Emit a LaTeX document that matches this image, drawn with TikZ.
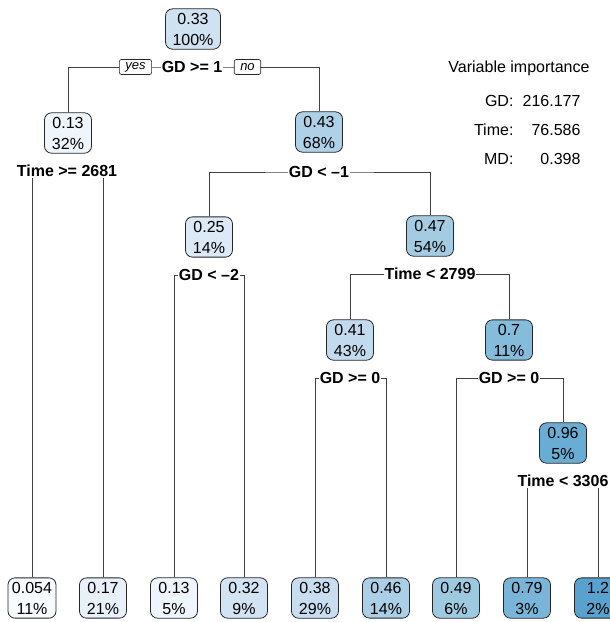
\documentclass[tikz,border=0pt]{standalone}
\usepackage{fontspec}
\setmainfont{Liberation Sans}
\usetikzlibrary{backgrounds}
\definecolor{c054}{HTML}{F7FBFF}
\definecolor{c13}{HTML}{EEF5FC}
\definecolor{c17}{HTML}{E8F1FA}
\definecolor{c25}{HTML}{DCE9F6}
\definecolor{c32}{HTML}{D2E3F3}
\definecolor{c33}{HTML}{D0E2F2}
\definecolor{c38}{HTML}{C9DDF0}
\definecolor{c41}{HTML}{C3DAEE}
\definecolor{c43}{HTML}{AFD1E7}
\definecolor{c46}{HTML}{ABCFE6}
\definecolor{c47}{HTML}{A3CCE3}
\definecolor{c49}{HTML}{9ECAE1}
\definecolor{c70}{HTML}{85BCDC}
\definecolor{c79}{HTML}{79B5D9}
\definecolor{c96}{HTML}{69ADD5}
\definecolor{c120}{HTML}{59A2CF}
\begin{document}
\begin{tikzpicture}[x=1pt, y=-1pt,
		box/.style={draw=black!85, line width=0.8pt, rounded corners=7pt, align=center, minimum width=47pt, inner xsep=4pt, inner ysep=4pt, font=\fontsize{16}{21}\selectfont},
		cond/.style={fill=white, inner sep=1pt, font=\fontsize{16}{21}\selectfont\bfseries},
		tag/.style={draw=black!85, fill=white, line width=0.6pt, rounded corners=2pt, inner xsep=6pt, inner ysep=0pt, minimum height=15pt, font=\fontsize{13}{15}\selectfont\itshape},
		vimp/.style={font=\fontsize{16}{21}\selectfont},
		branch/.style={draw=black!75, line width=0.7pt}]
				\useasboundingbox (0,0) rectangle (610,622);
				
				\node[box, fill=c33, inner xsep=7pt] (n1) at (193, 29) {0.33\\100\%};
				\node[box, fill=c13] (n2) at (68, 133) {0.13\\32\%};
				\node[box, fill=c43] (n3) at (319, 132) {0.43\\68\%};
				\node[box, fill=c25] (n6) at (209, 237) {0.25\\14\%};
				\node[box, fill=c47] (n7) at (430, 236) {0.47\\54\%};
				\node[box, fill=c41] (n14) at (350, 340) {0.41\\43\%};
				\node[box, fill=c70] (n15) at (509, 340) {0.7\\11\%};
				\node[box, fill=c96] (n31) at (563, 443) {0.96\\5\%};
				
				\node[box, fill=c054] (l1) at (32, 598) {0.054\\11\%};
				\node[box, fill=c17] (l2) at (103, 598) {0.17\\21\%};
				\node[box, fill=c13] (l3) at (174, 598) {0.13\\5\%};
				\node[box, fill=c32] (l4) at (244, 598) {0.32\\9\%};
				\node[box, fill=c38] (l5) at (315, 598) {0.38\\29\%};
				\node[box, fill=c46] (l6) at (386, 598) {0.46\\14\%};
				\node[box, fill=c49] (l7) at (456, 598) {0.49\\6\%};
				\node[box, fill=c79] (l8) at (527, 598) {0.79\\3\%};
				\node[box, fill=c120] (l9) at (598, 598) {1.2\\2\%};
				
				\node[cond] (s1) at (192, 67) {GD >= 1};
				\node[tag] (yes) at (135.5, 67) {yes};
				\node[tag] (no) at (247.5, 67) {no};
				\node[cond] (s2) at (67, 171) {Time >= 2681};
				\node[cond] (s3) at (319, 172) {GD < –1};
				\node[cond] (s6) at (209, 275) {GD < –2};
				\node[cond] (s7) at (430, 274) {Time < 2799};
				\node[cond] (s14) at (350, 378) {GD >= 0};
				\node[cond] (s15) at (509, 378) {GD >= 0};
				\node[cond] (s31) at (563, 481) {Time < 3306};
				
				\begin{scope}[on background layer]
					\draw[branch] (n2.north) |- (s1.center) -| (n3.north);
					\draw[branch] (l1.north) |- (s2.center) -| (l2.north);
					\draw[branch] (n6.north) |- (s3.center) -| (n7.north);
					\draw[branch] (l3.north) |- (s6.center) -| (l4.north);
					\draw[branch] (n14.north) |- (s7.center) -| (n15.north);
					\draw[branch] (l5.north) |- (s14.center) -| (l6.north);
					\draw[branch] (l7.north) |- (s15.center) -| (n31.north);
					\draw[branch] (l8.north) |- (s31.center) -| (l9.north);
				\end{scope}
				
				\node[vimp] (vt) at (519, 68) {Variable importance};
				\node[vimp, anchor=east] (k1) at (517, 101) {GD:};
				\node[vimp, anchor=east] (v1) at (584, 101) {216.177};
				\node[vimp, anchor=east] (k2) at (517, 130) {Time:};
				\node[vimp, anchor=east] (v2) at (584, 130) {76.586};
				\node[vimp, anchor=east] (k3) at (517, 159) {MD:};
				\node[vimp, anchor=east] (v3) at (584, 159) {0.398};
			\end{tikzpicture}
\end{document}
